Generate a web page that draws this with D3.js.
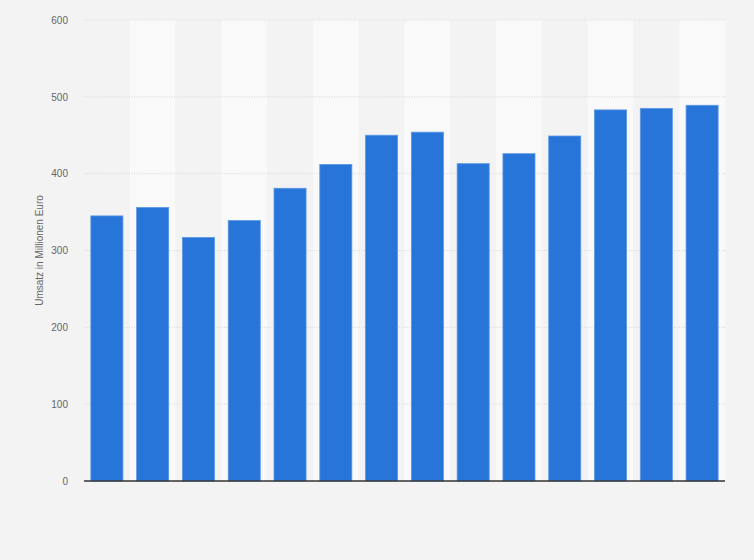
<!DOCTYPE html>
<html>
<head>
<meta charset="utf-8">
<script src="https://cdn.jsdelivr.net/npm/d3@7"></script>
<style>
  body { margin: 0; background: #f3f3f3; }
  #chart { width: 754px; height: 560px; }
  .tick text { font-family: Arial, "Liberation Sans", sans-serif; }
</style>
</head>
<body>
<div id="chart"></div>
<script>
// Data (no category labels visible)
var categories = ["1", "2", "3", "4", "5", "6", "7", "8", "9", "10", "11", "12", "13", "14"];
var values = [345, 356, 317, 339, 381, 412, 450, 454, 413, 426, 449, 483, 485, 489];
var yTicks = [0, 100, 200, 300, 400, 500, 600];
var yLabel = "Umsatz in Millionen Euro";

var margin = { top: 20, right: 29, bottom: 79, left: 84 };
var W = 754, H = 560;
var w = W - margin.left - margin.right;
var h = H - margin.top - margin.bottom;

var svg = d3.select("#chart")
  .append("svg")
  .attr("width", W)
  .attr("height", H);

svg.append("rect")
  .attr("width", W).attr("height", H)
  .attr("fill", "#f3f3f3");

var g = svg.append("g")
  .attr("transform", "translate(" + margin.left + "," + margin.top + ")");

var x = d3.scaleBand().domain(categories).range([0, w]).paddingInner(0.3).paddingOuter(0.15);
var xBand = d3.scaleBand().domain(categories).range([0, w]);
var y = d3.scaleLinear().domain([0, 600]).range([h, 0]);

// alternating column stripes
g.selectAll(".stripe")
  .data(categories)
  .enter()
  .append("rect")
  .attr("class", "stripe")
  .attr("x", function(d) { return xBand(d); })
  .attr("y", 0)
  .attr("width", xBand.bandwidth())
  .attr("height", h)
  .attr("fill", function(d, i) { return i % 2 ? "#f9f9f9" : "#f3f3f3"; });

// grid lines
g.selectAll(".grid")
  .data(yTicks.filter(function(t) { return t > 0; }))
  .enter()
  .append("line")
  .attr("class", "grid")
  .attr("x1", 0).attr("x2", w)
  .attr("y1", function(d) { return y(d); })
  .attr("y2", function(d) { return y(d); })
  .attr("stroke", "#d6d6d6")
  .attr("stroke-width", 1)
  .attr("stroke-dasharray", "1,1.5");

// y axis (labels only)
var yAxis = d3.axisLeft(y).tickValues(yTicks).tickSize(0).tickPadding(16);
var ya = g.append("g").call(yAxis);
ya.select(".domain").remove();
ya.selectAll("text")
  .attr("fill", "#666")
  .style("font-size", "10px");

// bars
g.selectAll(".bar")
  .data(values)
  .enter()
  .append("rect")
  .attr("class", "bar")
  .attr("x", function(d, i) { return x(categories[i]); })
  .attr("y", function(d) { return y(d); })
  .attr("width", x.bandwidth())
  .attr("height", function(d) { return h - y(d); })
  .attr("fill", "#2775d9")
  .attr("stroke", "#5b97e4")
  .attr("stroke-width", 0.8);

// baseline
g.append("line")
  .attr("x1", 0).attr("x2", w)
  .attr("y1", h).attr("y2", h)
  .attr("stroke", "#333")
  .attr("stroke-width", 1.5);

// y label
g.append("text")
  .attr("transform", "rotate(-90)")
  .attr("x", -y(300))
  .attr("y", -41)
  .attr("text-anchor", "middle")
  .attr("fill", "#666")
  .style("font-family", "Arial, 'Liberation Sans', sans-serif")
  .style("font-size", "10px")
  .text(yLabel);
</script>
</body>
</html>
